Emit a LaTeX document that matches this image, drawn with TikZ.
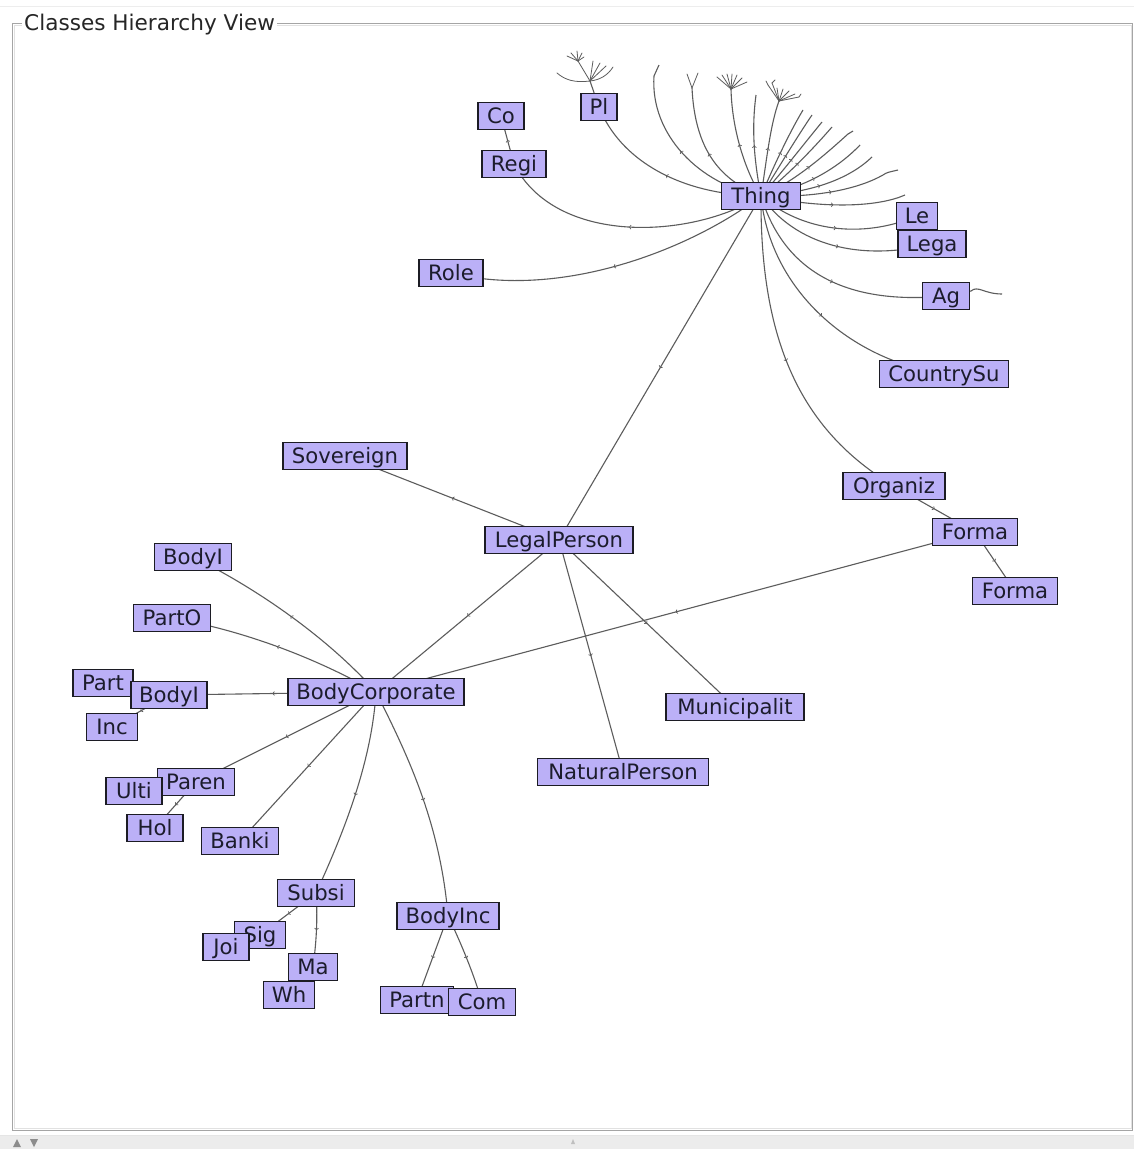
\documentclass[tikz,border=0pt]{standalone}
\usepackage{fontspec}
\setmainfont{DejaVu Sans}
\usetikzlibrary{arrows.meta,decorations.markings}
\definecolor{nodefill}{RGB}{187,176,247}
\definecolor{nodeline}{RGB}{28,28,36}
\definecolor{labeltext}{RGB}{28,28,44}
\definecolor{edgegray}{RGB}{92,92,92}
\definecolor{framegray}{RGB}{165,165,165}
\definecolor{framelight}{RGB}{225,225,225}
\definecolor{barfill}{RGB}{236,236,236}
\pgfdeclarelayer{back}
\pgfdeclarelayer{edges}
\pgfsetlayers{back,edges,main}

\begin{document}
\begin{tikzpicture}[x=1pt,y=-1pt,
  cls/.style={draw=nodeline, fill=nodefill, line width=1.1pt, inner sep=0pt,
    minimum height=27pt, text height=16.5pt, text depth=2.5pt, text=labeltext,
    font=\fontsize{21.2}{25}\selectfont},
  link/.style={draw=edgegray, line width=1.1pt},
  ticked/.style={link, postaction={decorate}, decoration={markings,
    mark=at position 0.5 with {\arrow[edgegray]{Straight Barb[length=1.5pt,width=4pt,line width=0.7pt]}}}},
  tuft/.style={draw=edgegray, line width=0.8pt, line cap=round}]

\useasboundingbox (0,0) rectangle (1134,1149);

% ---------- panel ----------
\begin{pgfonlayer}{back}
  \fill[white] (0,0) rectangle (1134,1149);
  \draw[black!7, line width=1pt] (0,6) -- (1134,6);
  \draw[framegray, line width=1pt] (12.5,23.5) rectangle (1132.5,1130);
  \draw[framelight, line width=1pt] (14,25) rectangle (1131,1128.5);
  \fill[barfill] (0,1135) rectangle (1134,1149);
  \draw[black!10, line width=0.8pt] (0,1135) -- (1134,1135);
  \fill[black!45] (13,1147) -- (17,1139) -- (21,1147) -- cycle;
  \fill[black!45] (30,1139) -- (38,1139) -- (34,1147) -- cycle;
  \fill[black!25] (571,1144) -- (573,1139) -- (575,1144) -- cycle;
\end{pgfonlayer}
\node[anchor=west, fill=white, inner xsep=2pt, inner ysep=1pt, text=black!85,
  font=\fontsize{21.6}{25}\selectfont] (title) at (22,25) {Classes Hierarchy View};

% ---------- classes ----------
\node[cls, minimum width=46] (co)    at (501,116) {Co};
\node[cls, minimum width=64] (regi)  at (514,164) {Regi};
\node[cls, minimum width=36] (pl)    at (599,107) {Pl};
\node[cls, minimum width=79] (thing) at (761,196) {Thing};
\node[cls, minimum width=41] (le)    at (917,216) {Le};
\node[cls, minimum width=68] (lega)  at (932,244) {Lega};
\node[cls, minimum width=64] (role)  at (451,273) {Role};
\node[cls, minimum width=47] (ag)    at (946,296) {Ag};
\node[cls, minimum width=129] (country) at (944,374) {CountrySu};
\node[cls, minimum width=124] (sov)  at (345,456) {Sovereign};
\node[cls, minimum width=102] (org)  at (894,486) {Organiz};
\node[cls, minimum width=85] (formaA) at (975,532) {Forma};
\node[cls, minimum width=85] (formaB) at (1015,591) {Forma};
\node[cls, minimum width=148] (legal) at (559,540) {LegalPerson};
\node[cls, minimum width=77] (bodyA) at (193,557) {BodyI};
\node[cls, minimum width=77] (parto) at (172,618) {PartO};
\node[cls, minimum width=60] (part)  at (103,683) {Part};
\node[cls, minimum width=76] (bodyB) at (169,695) {BodyI};
\node[cls, minimum width=51] (inc)   at (112,727) {Inc};
\node[cls, minimum width=176] (bc)   at (376,692) {BodyCorporate};
\node[cls, minimum width=138] (muni) at (735,707) {Municipalit};
\node[cls, minimum width=171] (nat)  at (623,772) {NaturalPerson};
\node[cls, minimum width=77] (paren) at (196,782) {Paren};
\node[cls, minimum width=56] (ulti)  at (134,791) {Ulti};
\node[cls, minimum width=56] (hol)   at (155,828) {Hol};
\node[cls, minimum width=77] (banki) at (240,841) {Banki};
\node[cls, minimum width=77] (subsi) at (316,893) {Subsi};
\node[cls, minimum width=51] (sig)   at (260,935) {Sig};
\node[cls, minimum width=46] (joi)   at (226,947) {Joi};
\node[cls, minimum width=49] (ma)    at (313,967) {Ma};
\node[cls, minimum width=51] (wh)    at (289,995) {Wh};
\node[cls, minimum width=102] (binc) at (448,916) {BodyInc};
\node[cls, minimum width=73] (partn) at (417,1000) {Partn};
\node[cls, minimum width=67] (com)   at (482,1002) {Com};

% ---------- loose ends of the fan above Thing ----------
\coordinate (fa) at (905,195);
\coordinate (fb) at (898,170);
\coordinate (fc) at (872,157);
\coordinate (fd) at (860,145);
\coordinate (fe) at (853,131);
\coordinate (ff) at (832,127);
\coordinate (fg) at (822,122);
\coordinate (fh) at (812,115);
\coordinate (fi) at (803,110);
\coordinate (fj) at (779,101);
\coordinate (fk) at (756,95);
\coordinate (fl) at (731,89);
\coordinate (fm) at (692,88);
\coordinate (fn) at (659,65);
\coordinate (plhub) at (590,81);
\coordinate (plsub) at (578,61);
\coordinate (agend) at (1002,294);

\begin{pgfonlayer}{edges}
  % Thing and its subclasses
  \draw[ticked] (thing.center) .. controls (680,195) and (620,160) .. (pl.center);
  \draw[ticked] (thing.center) .. controls (690,240) and (555,245) .. (regi.center);
  \draw[ticked] (thing.center) .. controls (690,250) and (560,300) .. (role.center);
  \draw[ticked] (thing.center) -- (legal.center);
  \draw[ticked] (thing.center) .. controls (760,340) and (800,430) .. (org.center);
  \draw[ticked] (thing.center) .. controls (770,290) and (850,360) .. (country.center);
  \draw[ticked] (thing.center) .. controls (785,275) and (850,305) .. (ag.center);
  \draw[ticked] (thing.center) .. controls (795,245) and (860,262) .. (lega.center);
  \draw[ticked] (thing.center) .. controls (800,230) and (860,240) .. (le.center);
  \draw[link] (ag.center) -- (971,291) .. controls (978,285) and (984,294) .. (agend);

  % fan of collapsed branches
  \draw[ticked] (thing.center) .. controls (830,210) and (880,206) .. (fa);
  \draw[ticked] (thing.center) .. controls (820,198) and (860,188) .. (883,175)
      .. controls (887,172) and (890,172) .. (fb);
  \draw[ticked] (thing.center) .. controls (815,192) and (850,178) .. (fc);
  \draw[ticked] (thing.center) .. controls (805,188) and (838,168) .. (fd);
  \draw[ticked] (thing.center) .. controls (795,182) and (828,152) .. (848,134) -- (fe);
  \draw[ticked] (thing.center) .. controls (785,178) and (812,150) .. (ff);
  \draw[ticked] (thing.center) .. controls (780,175) and (803,145) .. (fg);
  \draw[ticked] (thing.center) .. controls (776,172) and (795,140) .. (fh);
  \draw[ticked] (thing.center) .. controls (772,170) and (788,135) .. (fi);
  \draw[ticked] (thing.center) .. controls (766,165) and (770,125) .. (fj);
  \draw[ticked] (thing.center) .. controls (753,155) and (752,125) .. (fk);
  \draw[ticked] (thing.center) .. controls (745,170) and (732,130) .. (fl);
  \draw[ticked] (thing.center) .. controls (720,180) and (695,150) .. (fm);
  \draw[ticked] (thing.center) .. controls (700,185) and (650,135) .. (654,76) -- (fn);

  % tufts at the ends of the fan
  \foreach \x/\y in {717/77,722/75,727/74,732/74,737/75,742/78,747/82}
    \draw[tuft] (fl) -- (\x,\y);
  \draw[tuft] (fm) -- (687,74);
  \draw[tuft] (fm) -- (698,73);
  \foreach \x/\y in {768/85,772/83,777/88,783/89,789/91,795/94,799/97}
    \draw[tuft] (fj) -- (\x,\y);
  \draw[tuft] (768,85) -- (766,81);
  \draw[tuft] (772,83) -- (775,80);
  \draw[tuft] (799,97) -- (801,94);

  % tuft above Pl
  \draw[link] (pl.center) -- (plhub);
  \draw[tuft] (plhub) .. controls (575,83) and (565,80) .. (557,73);
  \draw[tuft] (plhub) .. controls (600,80) and (608,75) .. (613,67);
  \draw[tuft] (plhub) -- (593,61);
  \draw[tuft] (plhub) -- (600,63);
  \draw[tuft] (plhub) -- (606,66);
  \draw[tuft] (plhub) -- (plsub);
  \foreach \x/\y in {567/56,571/53,577/51,582/53,584/57}
    \draw[tuft] (plsub) -- (\x,\y);

  \draw[ticked] (regi.center) -- (co.center);

  % LegalPerson
  \draw[ticked] (legal.center) -- (sov.center);
  \draw[ticked] (legal.center) -- (bc.center);
  \draw[ticked] (legal.center) -- (nat.center);
  \draw[ticked] (legal.center) -- (muni.center);

  % Organization branch
  \draw[ticked] (org.center) -- (formaA.center);
  \draw[ticked] (formaA.center) -- (formaB.center);
  \draw[ticked] (formaA.center) -- (bc.center);

  % BodyCorporate
  \draw[ticked] (bc.center) .. controls (330,640) and (260,590) .. (bodyA.center);
  \draw[ticked] (bc.center) .. controls (310,655) and (240,630) .. (parto.center);
  \draw[ticked] (bc.center) -- (bodyB.center);
  \draw[ticked] (bodyB.center) -- (inc.center);
  \draw[ticked] (bodyB.center) -- (part.center);
  \draw[ticked] (bc.center) -- (paren.center);
  \draw[ticked] (paren.center) -- (hol.center);
  \draw[ticked] (paren.center) -- (ulti.center);
  \draw[ticked] (bc.center) -- (banki.center);
  \draw[ticked] (bc.center) .. controls (372,760) and (345,830) .. (subsi.center);
  \draw[ticked] (bc.center) .. controls (405,750) and (440,820) .. (binc.center);
  \draw[ticked] (subsi.center) -- (sig.center);
  \draw[ticked] (sig.center) -- (joi.center);
  \draw[ticked] (subsi.center) .. controls (318,920) and (316,945) .. (ma.center);
  \draw[ticked] (ma.center) -- (wh.center);
  \draw[ticked] (binc.center) -- (partn.center);
  \draw[ticked] (binc.center) .. controls (462,945) and (474,975) .. (com.center);
\end{pgfonlayer}
\end{tikzpicture}
\end{document}
